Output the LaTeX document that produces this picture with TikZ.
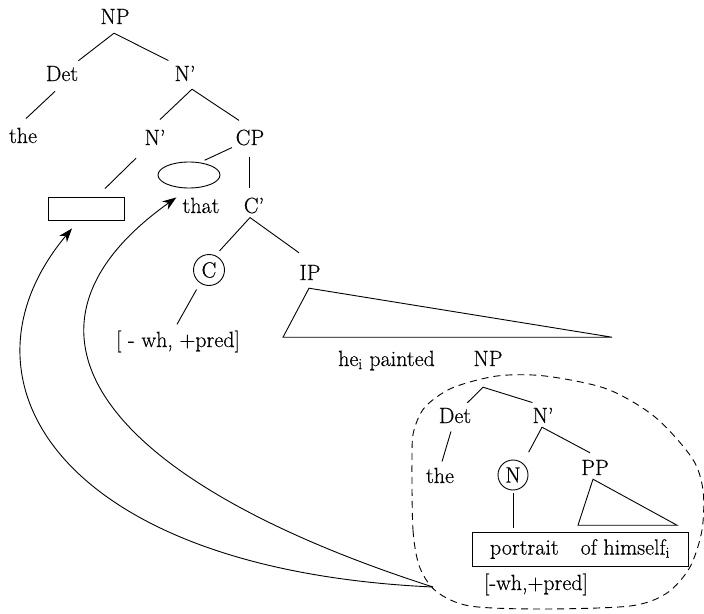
\documentclass[tikz,border=0pt]{standalone}
\usepackage{fontspec}
\setmainfont{Latin Modern Roman}[FakeBold=0.4]
\usetikzlibrary{shapes.geometric,arrows.meta}
\begin{document}
\begin{tikzpicture}[x=1pt,y=-1pt,
  every node/.style={font=\fontsize{22}{26}\selectfont, inner sep=0pt},
  lbl/.style={anchor=base},
  edge/.style={line width=0.9pt},
  ring/.style={circle, draw, line width=0.9pt, minimum size=31pt},
  move/.style={line width=0.9pt, -{Stealth[length=14pt,width=10pt]}},
  blob/.style={line width=0.9pt, dash pattern=on 7pt off 5pt}]
\useasboundingbox (0,0) rectangle (704,613);

% --- upper tree ---
\node[lbl] (np1) at (115,24) {NP};
\node[lbl] (det1) at (62,81) {Det};
\node[lbl] (n1) at (185,81) {N'};
\node[lbl] (the1) at (23,143) {the};
\node[lbl] (n2) at (155,145) {N'};
\node[lbl] (cp) at (250,145) {CP};
\node[ellipse, draw, line width=0.9pt, minimum width=62pt, minimum height=26pt] (ell) at (189,175) {};
\node[draw, line width=0.9pt, minimum width=76pt, minimum height=23pt] (gap) at (86,208.5) {};
\node[lbl] (that) at (201,213) {that};
\node[lbl] (c2) at (254,213) {C'};
\node[ring] (ccirc) at (209,270) {C};
\node[lbl] (ip) at (310,280) {IP};
\node[lbl] (feat1) at (178,347) {[ - wh, +pred]};
\node[anchor=base west] (hep) at (338,366) {he\textsubscript{i} painted};
\node[lbl] (np2) at (488,366) {NP};

\draw[edge] ([xshift=-1pt,yshift=-9pt]np1.south) -- ([yshift=5pt]det1.north east);
\draw[edge] ([xshift=-1pt,yshift=-9pt]np1.south) -- ([xshift=-6pt,yshift=5pt]n1.north west);
\draw[edge] ([xshift=-7pt,yshift=-10pt]det1.south) -- ([xshift=3pt,yshift=9pt]the1.north);
\draw[edge] ([xshift=7pt,yshift=-8pt]n1.south) -- ([xshift=5pt,yshift=10pt]n2.north);
\draw[edge] ([xshift=7pt,yshift=-8pt]n1.south) -- ([xshift=-11pt,yshift=9pt]cp.north);
\draw[edge] ([xshift=-19pt,yshift=-13pt]n2.south) -- ([xshift=19pt,yshift=8pt]gap.north);
\draw[edge] ([xshift=-18pt,yshift=-2pt]cp.south) -- ([yshift=3pt]ell.37);
\draw[edge] ([xshift=-1pt,yshift=-11pt]cp.south) -- ([xshift=-5pt,yshift=9pt]c2.north);
\draw[edge] ([xshift=-4pt,yshift=-4pt]c2.south) -- ([xshift=3pt,yshift=5pt]ccirc.62);
\draw[edge] ([xshift=-4pt,yshift=-4pt]c2.south) -- ([xshift=-11pt,yshift=12pt]ip.north);
\draw[edge] ([xshift=-4pt,yshift=-6pt]ccirc.238) -- ([xshift=-1pt,yshift=6pt]feat1.north);
% IP summarised by a triangle
\draw[edge] ([xshift=-1pt,yshift=-8pt]ip.south) -- ++(-26,49) -- ++(329,0) -- cycle;

% --- the moved NP inside the dashed region ---
\node[lbl] (det2) at (455,423) {Det};
\node[lbl] (n3) at (543,423) {N'};
\node[lbl] (the2) at (440,483) {the};
\node[ring, minimum size=30pt] (ncirc) at (513,475) {N};
\node[lbl] (pp) at (595,475) {PP};
\node[draw, line width=0.9pt, minimum width=216pt, minimum height=34pt] (box) at (580,549)
  {portrait\hspace{1em}of himself\textsubscript{i}};
\node[lbl] (feat2) at (536,590) {[-wh,+pred]};

\draw[edge] ([xshift=-5pt,yshift=-21pt]np2.south) -- ([xshift=-4pt,yshift=5pt]det2.north east);
\draw[edge] ([xshift=-5pt,yshift=-21pt]np2.south) -- ([yshift=5pt]n3.north west);
\draw[edge] ([xshift=-4pt,yshift=-8pt]det2.south) -- ([xshift=2pt,yshift=6pt]the2.north);
\draw[edge] ([xshift=-1pt,yshift=-4pt]n3.south) -- ([xshift=7pt,yshift=10pt]ncirc.56);
\draw[edge] ([xshift=-1pt,yshift=-4pt]n3.south) -- ([xshift=-5pt,yshift=7pt]pp.north);
\draw[edge, shorten <=3pt, shorten >=4pt] (ncirc.south) -- (ncirc.south |- box.north);
% PP summarised by a triangle
\draw[edge] ([xshift=-2pt,yshift=-4pt]pp.south) -- ++(-15,46) -- ++(99,0) -- cycle;

\draw[blob] plot[smooth cycle, tension=0.5] coordinates {
  (412,455) (413,530) (420,568) (437,592) (470,606) (540,609) (630,606)
  (667,593) (690,567) (702,530) (703,490) (692,458) (655,417) (607,389)
  (545,376) (497,376) (452,388) (425,407) (414,430)};

% --- movement arrows ---
\coordinate (src) at (433,587);
\draw[move] (src) .. controls (60,570) and (-55,380) .. ([xshift=-14pt,yshift=-8pt]gap.south);
\draw[move] (src) .. controls (100,480) and (-10,330) .. ([xshift=-6pt,yshift=8pt]that.west);
\end{tikzpicture}
\end{document}
